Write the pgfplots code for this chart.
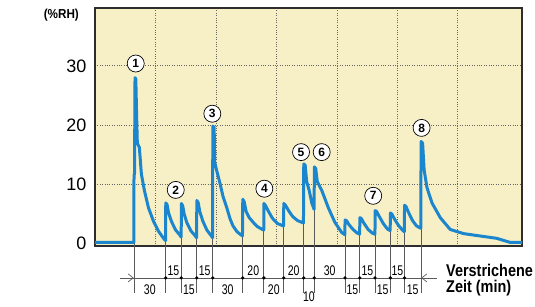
\documentclass[border=0pt]{standalone}
\usepackage{fontspec}
\setmainfont{Liberation Sans}
\usepackage{graphicx}
\usepackage{pgfplots}
\pgfplotsset{compat=1.18}
\usetikzlibrary{arrows.meta}
\definecolor{bg}{RGB}{247,240,198}
\definecolor{curve}{RGB}{27,133,206}
\definecolor{frame}{RGB}{45,45,45}
\definecolor{ann}{RGB}{90,90,90}
\newcommand\sm[1]{\scalebox{0.75}[1]{\fontsize{14}{14}\selectfont #1}}
\tikzset{num/.style={circle,draw=black,line width=0.7pt,fill=white,inner sep=0pt,minimum size=17pt,font=\bfseries\fontsize{12}{12}\selectfont}}
\begin{document}
\begin{tikzpicture}
\begin{axis}[
 scale only axis, width=427pt, height=238pt,
 xmin=0, xmax=423.6, ymin=-0.5, ymax=39.8,
 axis background/.style={fill=bg},
 axis line style={frame, line width=1.4pt},
 xtick={60,120,...,360}, xticklabels={},
 ytick={10,20,30},
 extra y ticks={0}, extra tick style={grid=none},
 grid=major, grid style={dotted, black!60, line width=0.8pt},
 major tick length=0pt,
 tick label style={font=\fontsize{18}{18}\selectfont},
 yticklabel style={xshift=-5pt},
 /pgf/number format/assume math mode=true,
 clip=false,
]
\coordinate (O) at (rel axis cs:0,0);
% annotation lines
\draw[ann, line width=0.7pt] (axis cs:38.7,0.1) -- (axis cs:38.7,-8.5);
\draw[ann, line width=0.7pt] (axis cs:70.1,0.4) -- (axis cs:70.1,-8.5);
\draw[ann, line width=0.7pt] (axis cs:85.6,1.0) -- (axis cs:85.6,-8.5);
\draw[ann, line width=0.7pt] (axis cs:100.9,0.9) -- (axis cs:100.9,-8.5);
\draw[ann, line width=0.7pt] (axis cs:116.8,0.9) -- (axis cs:116.8,-8.5);
\draw[ann, line width=0.7pt] (axis cs:146.5,1.2) -- (axis cs:146.5,-8.5);
\draw[ann, line width=0.7pt] (axis cs:167.5,2.2) -- (axis cs:167.5,-8.5);
\draw[ann, line width=0.7pt] (axis cs:187.2,2.9) -- (axis cs:187.2,-8.5);
\draw[ann, line width=0.7pt] (axis cs:207.0,3.4) -- (axis cs:207.0,-8.5);
\draw[ann, line width=0.7pt] (axis cs:217.5,5.7) -- (axis cs:217.5,-8.5);
\draw[ann, line width=0.7pt] (axis cs:248.0,1.4) -- (axis cs:248.0,-8.5);
\draw[ann, line width=0.7pt] (axis cs:262.6,1.5) -- (axis cs:262.6,-8.5);
\draw[ann, line width=0.7pt] (axis cs:277.8,1.5) -- (axis cs:277.8,-8.5);
\draw[ann, line width=0.7pt] (axis cs:293.0,2.1) -- (axis cs:293.0,-8.5);
\draw[ann, line width=0.7pt] (axis cs:307.0,1.9) -- (axis cs:307.0,-8.5);
\draw[ann, line width=0.7pt] (axis cs:323.4,2.5) -- (axis cs:323.4,-8.5);
% horizontal time line
\draw[ann, line width=0.7pt] (axis cs:24.8,-5.9) -- (axis cs:339,-5.9);
\draw[ann, line width=0.7pt, -{Straight Barb[length=5pt,width=8pt]}] (axis cs:24.8,-5.9) -- (axis cs:38.4,-5.9);
\draw[ann, line width=0.7pt, -{Straight Barb[length=5pt,width=8pt]}] (axis cs:339,-5.9) -- (axis cs:323.7,-5.9);
\fill (axis cs:70.1,-5.9) circle[radius=1.8pt];
\fill (axis cs:85.6,-5.9) circle[radius=1.8pt];
\fill (axis cs:100.9,-5.9) circle[radius=1.8pt];
\fill (axis cs:116.8,-5.9) circle[radius=1.8pt];
\fill (axis cs:146.5,-5.9) circle[radius=1.8pt];
\fill (axis cs:167.5,-5.9) circle[radius=1.8pt];
\fill (axis cs:187.2,-5.9) circle[radius=1.8pt];
\fill (axis cs:207.0,-5.9) circle[radius=1.8pt];
\fill (axis cs:217.5,-5.9) circle[radius=1.8pt];
\fill (axis cs:248.0,-5.9) circle[radius=1.8pt];
\fill (axis cs:262.6,-5.9) circle[radius=1.8pt];
\fill (axis cs:277.8,-5.9) circle[radius=1.8pt];
\fill (axis cs:293.0,-5.9) circle[radius=1.8pt];
\fill (axis cs:307.0,-5.9) circle[radius=1.8pt];
% interval labels (top row)
\node[anchor=base, inner sep=0pt] at (axis cs:77.85,-5.44) {\sm{15}};
\node[anchor=base, inner sep=0pt] at (axis cs:108.85,-5.44) {\sm{15}};
\node[anchor=base, inner sep=0pt] at (axis cs:157.0,-5.44) {\sm{20}};
\node[anchor=base, inner sep=0pt] at (axis cs:197.1,-5.44) {\sm{20}};
\node[anchor=base, inner sep=0pt] at (axis cs:232.75,-5.44) {\sm{30}};
\node[anchor=base, inner sep=0pt] at (axis cs:270.2,-5.44) {\sm{15}};
\node[anchor=base, inner sep=0pt] at (axis cs:300.0,-5.44) {\sm{15}};
% interval labels (bottom row)
\node[anchor=base, inner sep=0pt] at (axis cs:54.4,-8.7) {\sm{30}};
\node[anchor=base, inner sep=0pt] at (axis cs:93.25,-8.7) {\sm{15}};
\node[anchor=base, inner sep=0pt] at (axis cs:131.65,-8.7) {\sm{30}};
\node[anchor=base, inner sep=0pt] at (axis cs:177.35,-8.7) {\sm{20}};
\node[anchor=base, inner sep=0pt] at (axis cs:255.3,-8.7) {\sm{15}};
\node[anchor=base, inner sep=0pt] at (axis cs:285.4,-8.7) {\sm{15}};
\node[anchor=base, inner sep=0pt] at (axis cs:315.2,-8.7) {\sm{15}};
\node[anchor=base, inner sep=0pt] at (axis cs:212.25,-9.95) {\sm{10}};
% axis texts
\node[anchor=base west, inner sep=0pt] at (axis cs:348.2,-5.6) {\scalebox{0.85}[1]{\bfseries\fontsize{17}{17}\selectfont Verstrichene}};
\node[anchor=base west, inner sep=0pt] at (axis cs:348.2,-8.45) {\scalebox{0.85}[1]{\bfseries\fontsize{17}{17}\selectfont Zeit (min)}};
\node[anchor=base, inner sep=0pt] at (axis cs:-33.4,38.0) {\scalebox{0.9}[1]{\bfseries\fontsize{13}{13}\selectfont (\%RH)}};
% curve
\addplot[curve, line width=3pt, line join=round] coordinates {
(0,0.1) (38.5,0.1)
(38.7,11.4) (39.2,11.8) (39.7,28.0) (40.5,27.8) (41.3,21.5) (42,16.9) (44,16.2) (46,11.7) (49,8.9) (53,6.0) (58,3.7) (63,2.0) (68,0.8) (70,0.4)
(70.2,6.8) (71.5,6.5) (73,5.1) (76,3.6) (80,2.2) (84,1.4) (85.5,1.0)
(85.7,6.7) (87,6.3) (88.5,4.9) (91,3.5) (95,2.1) (99,1.3) (100.8,0.9)
(101,7.2) (102.3,6.9) (104,5.3) (107,3.7) (111,2.2) (115,1.3) (116.6,0.9)
(116.9,19.8) (118.2,19.6) (118.7,13.7) (120.7,12.3) (124,10.1) (127,7.9) (130.7,6.0) (134,4.1) (136.9,2.9) (141,1.9) (146.3,1.2)
(146.6,7.4) (148,7.0) (150,5.3) (153,4.3) (157,3.5) (161,2.8) (165,2.4) (167.4,2.2)
(167.6,6.7) (169,6.4) (172,5.4) (176,4.2) (181,3.3) (187,2.9)
(187.3,6.7) (189,6.4) (192,5.5) (196,4.5) (201,3.8) (206.8,3.4)
(207.1,13.4) (208.5,13.2) (210,10.4) (212.5,8.9) (215,6.8) (217.4,5.7)
(217.6,12.9) (219,12.6) (220.5,10.4) (225,8.9) (231.4,6.0) (238,3.5) (244.7,1.8) (247.8,1.4)
(248.1,3.9) (249.5,3.8) (252,3.1) (256,2.3) (260,1.7) (262.5,1.5)
(262.8,4.3) (264,4.2) (267,3.3) (271,2.3) (275,1.7) (277.7,1.5)
(278,5.5) (279.5,5.3) (282,4.5) (286,3.3) (290,2.4) (292.8,2.1)
(293.1,5.1) (294.5,4.9) (297,4.1) (301,3.0) (305,2.2) (306.8,1.9)
(307.1,6.4) (308.5,6.2) (311,5.2) (315,3.8) (319,2.9) (323.2,2.5)
(323.5,17.2) (325,16.9) (326.5,12.4) (329.3,9.4) (334.3,6.8) (342.5,4.3) (352.4,2.3) (365.6,1.6) (382,1.2) (398.5,0.8) (412,0.1) (423.6,0.1)
};
% circled numbers
\node[num] at (axis cs:40.4,30.4) {1};
\node[num] at (axis cs:80.1,9.0) {2};
\node[num] at (axis cs:116.4,21.9) {3};
\node[num] at (axis cs:168,9.2) {4};
\node[num] at (axis cs:204.4,15.4) {5};
\node[num] at (axis cs:224.9,15.4) {6};
\node[num] at (axis cs:276,8.0) {7};
\node[num] at (axis cs:324,19.5) {8};
\end{axis}
\pgfresetboundingbox
\path (O) ++(-95pt,-60pt) rectangle ++(535pt,306pt);
\end{tikzpicture}
\end{document}
